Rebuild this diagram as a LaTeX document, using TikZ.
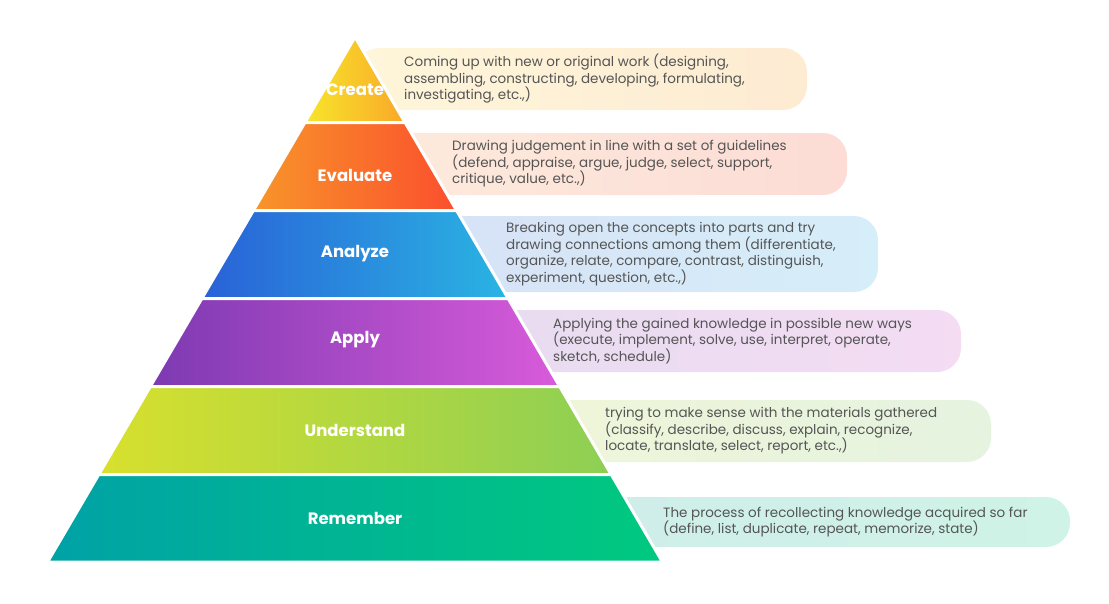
\documentclass[tikz,border=0pt]{standalone}
\usepackage{fontspec}
\setmainfont{Poppins}
\definecolor{createA}{HTML}{F8E52B}
\definecolor{createB}{HTML}{F9A829}
\definecolor{createC}{HTML}{FEF6DA}
\definecolor{createD}{HTML}{FDEBD2}
\definecolor{evaluateA}{HTML}{F8952A}
\definecolor{evaluateB}{HTML}{FB4F2D}
\definecolor{evaluateC}{HTML}{FDEBDD}
\definecolor{evaluateD}{HTML}{FCDCD5}
\definecolor{analyzeA}{HTML}{2961D7}
\definecolor{analyzeB}{HTML}{2AB4E3}
\definecolor{analyzeC}{HTML}{D7E0F6}
\definecolor{analyzeD}{HTML}{D6EEF9}
\definecolor{applyA}{HTML}{7D3AB2}
\definecolor{applyB}{HTML}{D85BDA}
\definecolor{applyC}{HTML}{E4DCF0}
\definecolor{applyD}{HTML}{F4DCF3}
\definecolor{understandA}{HTML}{D8E02D}
\definecolor{understandB}{HTML}{8DCF54}
\definecolor{understandC}{HTML}{F3F6D6}
\definecolor{understandD}{HTML}{E5F3DF}
\definecolor{rememberA}{HTML}{00A2A6}
\definecolor{rememberB}{HTML}{00C97F}
\definecolor{rememberC}{HTML}{CFEBEC}
\definecolor{rememberD}{HTML}{CFF3E6}
\definecolor{remarkgray}{HTML}{555555}

\begin{document}
\begin{tikzpicture}[x=1pt,y=-1pt,
                    every node/.style={inner sep=0pt},
                    level/.style={draw=white,
                      line width=3pt,
                      line join=round},
                    levelname/.style={text=white,
                      font=\bfseries\fontsize{16.5}{19}\selectfont},
                    remark/.style={anchor=west,
                      align=left,
                      text=remarkgray,
                      font=\fontsize{13.5}{16.5}\selectfont}]
\useasboundingbox (0,0) rectangle (1109,603);
\foreach \name/\lname/\yt/\yb/\bt/\bb/\br/\tx/\ly/\desc in {
  create/Create/37/122.5/48/110/807/404/90/{Coming up with new or original work (designing,\\
    assembling, constructing, developing, formulating,\\ investigating, etc.,)},
  evaluate/Evaluate/122.5/210.5/133/195/847/452/175/{Drawing judgement in line with a set of guidelines\\
    (defend, appraise, argue, judge, select, support,\\ critique, value, etc.,)},
  analyze/Analyze/210.5/298.5/216/292/878/506/254/{Breaking open the concepts into parts and try\\
    drawing connections among them (differentiate,\\ organize, relate, compare, contrast, distinguish,\\
    experiment, question, etc.,)},
  apply/Apply/298.5/386.5/310/372/961/553/340/{Applying the gained knowledge in possible new ways\\
    (execute, implement, solve, use, interpret, operate,\\ sketch, schedule)},
  understand/Understand/386.5/474.5/400/462/991/605/430/{trying to make sense with the materials gathered\\
    (classify, describe, discuss, explain, recognize,\\ locate, translate, select, report, etc.,)},
  remember/Remember/474.5/562/497/547/1070/663/518/{The process of recollecting knowledge acquired so far\\
    (define, list, duplicate, repeat, memorize, state)}}
{
  % box behind the level
  \shade[left color=\name C, right color=\name D, rounded corners=24pt]
    (355,\bt) rectangle (\br,\bb);
  % level of the pyramid
  \shadedraw[level, left color=\name A, right color=\name B]
    ({355-0.5857*(\yt-37)},\yt) -- ({355+0.5857*(\yt-37)},\yt)
    -- ({355+0.5857*(\yb-37)},\yb) -- ({355-0.5857*(\yb-37)},\yb) -- cycle;
  \node[levelname] (\name) at (355,\ly) {\lname};
  \node[remark] (\name-text) at (\tx,{(\bt+\bb)/2}) {\desc};
}
\end{tikzpicture}
\end{document}
